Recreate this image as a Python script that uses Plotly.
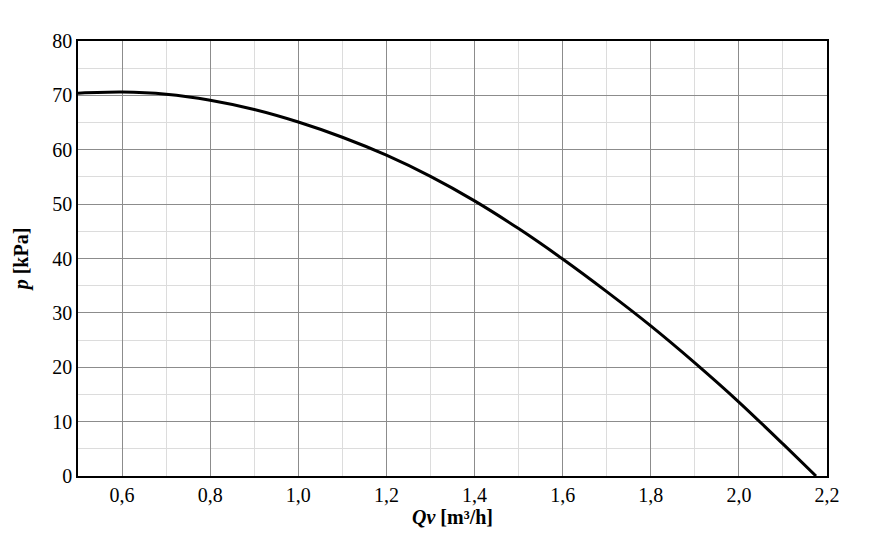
"""Pump curve: pressure vs volumetric flow"""

import plotly.graph_objects as go

# flow rate Qv [m3/h] and pressure p [kPa]
qv = [0.5, 0.6, 0.7, 0.8, 0.9, 1.0, 1.1, 1.2, 1.3, 1.4, 1.5, 1.6, 1.7, 1.8, 1.9, 2.0, 2.1, 2.175]
p_kpa = [70.4, 70.6, 70.2, 69.1, 67.4, 65.1, 62.3, 59.0, 55.1, 50.6, 45.5, 39.9, 33.9, 27.6, 20.8, 13.6, 5.9, 0.0]

x_ticks = [0.6, 0.8, 1.0, 1.2, 1.4, 1.6, 1.8, 2.0, 2.2]
y_ticks = [0, 10, 20, 30, 40, 50, 60, 70, 80]

fig = go.Figure()
fig.add_trace(
    go.Scatter(
        x=qv,
        y=p_kpa,
        mode="lines",
        line=dict(color="black", width=3, shape="spline", smoothing=0.8),
        showlegend=False,
    )
)

axis_style = dict(
    showline=True,
    linecolor="black",
    linewidth=1.5,
    mirror=True,
    showgrid=True,
    gridcolor="#8c8c8c",
    gridwidth=1,
    zeroline=False,
    ticks="",
    tickfont=dict(family="Liberation Serif", size=20, color="black"),
)

fig.update_xaxes(
    range=[0.5, 2.2],
    tickvals=x_ticks,
    tickformat=".1f",
    minor=dict(dtick=0.1, tick0=0.5, showgrid=True, gridcolor="#dcdcdc", gridwidth=1),
    title=dict(
        text="<b><i>Qv</i> [m³/h]</b>",
        font=dict(family="Liberation Serif", size=20, color="black"),
        standoff=0,
    ),
    **axis_style,
)
fig.update_yaxes(
    range=[0, 80],
    tickvals=y_ticks,
    minor=dict(dtick=5, tick0=0, showgrid=True, gridcolor="#dcdcdc", gridwidth=1),
    title=dict(
        text="<b><i>p</i> [kPa]</b>",
        font=dict(family="Liberation Serif", size=20, color="black"),
        standoff=18,
    ),
    **axis_style,
)

fig.update_layout(
    width=869,
    height=536,
    margin=dict(l=68, r=50, t=33, b=68),
    plot_bgcolor="white",
    paper_bgcolor="white",
    separators=", ",
)

fig.write_html("out.html")
